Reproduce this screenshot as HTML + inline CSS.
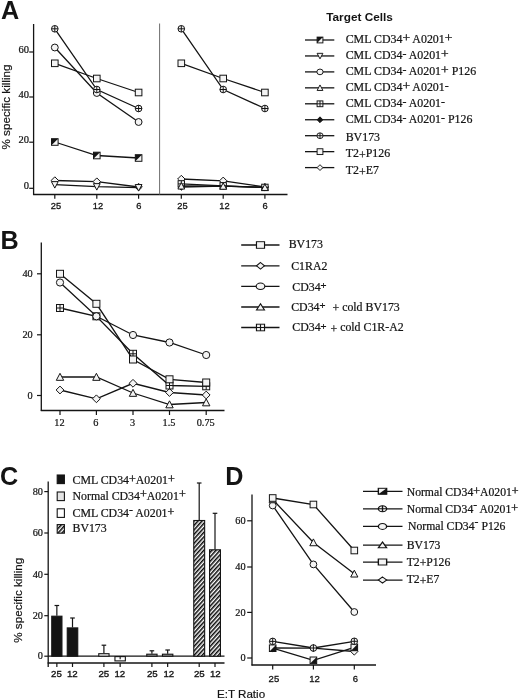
<!DOCTYPE html>
<html lang="en"><head><meta charset="utf-8"><title>Figure</title>
<style>
html,body{margin:0;padding:0;background:#fff;}
body{width:520px;height:700px;overflow:hidden;}
svg{display:block;}
text{white-space:pre;}
</style></head><body>
<svg width="520" height="700" viewBox="0 0 520 700">
<rect width="520" height="700" fill="#ffffff"/>
<text x="1.00" y="18.60" font-family='"Liberation Sans", sans-serif' font-size="25.2" text-anchor="start" font-weight="bold" fill="#141414" stroke="#141414" stroke-width="0.0" >A</text>
<line x1="33.60" y1="24.00" x2="33.60" y2="195.00" stroke="#141414" stroke-width="1.3"/>
<line x1="33.10" y1="194.50" x2="287.50" y2="194.50" stroke="#141414" stroke-width="1.3"/>
<line x1="159.60" y1="23.50" x2="159.60" y2="194.50" stroke="#6e6e6e" stroke-width="1.0"/>
<text x="29.00" y="188.90" font-family='"Liberation Serif", serif' font-size="10.5" text-anchor="end" font-weight="normal" fill="#141414" stroke="#141414" stroke-width="0.22" >0</text>
<line x1="29.20" y1="188.30" x2="33.60" y2="188.30" stroke="#141414" stroke-width="1.2"/>
<text x="29.00" y="142.80" font-family='"Liberation Serif", serif' font-size="10.5" text-anchor="end" font-weight="normal" fill="#141414" stroke="#141414" stroke-width="0.22" >20</text>
<line x1="29.20" y1="142.20" x2="33.60" y2="142.20" stroke="#141414" stroke-width="1.2"/>
<text x="29.00" y="97.60" font-family='"Liberation Serif", serif' font-size="10.5" text-anchor="end" font-weight="normal" fill="#141414" stroke="#141414" stroke-width="0.22" >40</text>
<line x1="29.20" y1="97.00" x2="33.60" y2="97.00" stroke="#141414" stroke-width="1.2"/>
<text x="29.00" y="52.60" font-family='"Liberation Serif", serif' font-size="10.5" text-anchor="end" font-weight="normal" fill="#141414" stroke="#141414" stroke-width="0.22" >60</text>
<line x1="29.20" y1="52.00" x2="33.60" y2="52.00" stroke="#141414" stroke-width="1.2"/>
<text x="56.00" y="208.50" font-family='"Liberation Sans", sans-serif' font-size="9.3" text-anchor="middle" font-weight="normal" fill="#141414" stroke="#141414" stroke-width="0.3" >25</text>
<line x1="54.80" y1="194.50" x2="54.80" y2="198.80" stroke="#141414" stroke-width="1.2"/>
<text x="98.00" y="208.50" font-family='"Liberation Sans", sans-serif' font-size="9.3" text-anchor="middle" font-weight="normal" fill="#141414" stroke="#141414" stroke-width="0.3" >12</text>
<line x1="96.80" y1="194.50" x2="96.80" y2="198.80" stroke="#141414" stroke-width="1.2"/>
<text x="138.90" y="208.50" font-family='"Liberation Sans", sans-serif' font-size="9.3" text-anchor="middle" font-weight="normal" fill="#141414" stroke="#141414" stroke-width="0.3" >6</text>
<line x1="138.60" y1="194.50" x2="138.60" y2="198.80" stroke="#141414" stroke-width="1.2"/>
<text x="182.50" y="208.50" font-family='"Liberation Sans", sans-serif' font-size="9.3" text-anchor="middle" font-weight="normal" fill="#141414" stroke="#141414" stroke-width="0.3" >25</text>
<line x1="181.30" y1="194.50" x2="181.30" y2="198.80" stroke="#141414" stroke-width="1.2"/>
<text x="224.40" y="208.50" font-family='"Liberation Sans", sans-serif' font-size="9.3" text-anchor="middle" font-weight="normal" fill="#141414" stroke="#141414" stroke-width="0.3" >12</text>
<line x1="223.20" y1="194.50" x2="223.20" y2="198.80" stroke="#141414" stroke-width="1.2"/>
<text x="265.20" y="208.50" font-family='"Liberation Sans", sans-serif' font-size="9.3" text-anchor="middle" font-weight="normal" fill="#141414" stroke="#141414" stroke-width="0.3" >6</text>
<line x1="264.90" y1="194.50" x2="264.90" y2="198.80" stroke="#141414" stroke-width="1.2"/>
<text x="0.00" y="0.00" font-family='"Liberation Sans", sans-serif' font-size="11.7" text-anchor="middle" font-weight="normal" fill="#141414" stroke="#141414" stroke-width="0.2" transform="translate(9.8,107) rotate(-90)">% specific killing</text>
<polyline points="54.80,180.50 96.80,181.60 138.60,187.00" fill="none" stroke="#141414" stroke-width="1.3"/>
<path d="M54.80 176.80L58.50 180.50L54.80 184.20L51.10 180.50Z" fill="#f4f4f4" stroke="#141414" stroke-width="1.0"/>
<path d="M96.80 177.90L100.50 181.60L96.80 185.30L93.10 181.60Z" fill="#f4f4f4" stroke="#141414" stroke-width="1.0"/>
<path d="M138.60 183.30L142.30 187.00L138.60 190.70L134.90 187.00Z" fill="#f4f4f4" stroke="#141414" stroke-width="1.0"/>
<polyline points="54.80,184.70 96.80,186.70 138.60,187.60" fill="none" stroke="#141414" stroke-width="1.3"/>
<path d="M54.80 188.10L58.20 181.64L51.40 181.64Z" fill="#f4f4f4" stroke="#141414" stroke-width="1.0"/>
<path d="M96.80 190.10L100.20 183.64L93.40 183.64Z" fill="#f4f4f4" stroke="#141414" stroke-width="1.0"/>
<path d="M138.60 191.00L142.00 184.54L135.20 184.54Z" fill="#f4f4f4" stroke="#141414" stroke-width="1.0"/>
<polyline points="54.80,142.00 96.80,155.50 138.60,158.00" fill="none" stroke="#141414" stroke-width="1.3"/>
<rect x="51.50" y="138.70" width="6.60" height="6.60" fill="#f4f4f4" stroke="#141414" stroke-width="1.0"/>
<path d="M51.50 145.30V138.70H58.10Z" fill="#141414" stroke="none"/>
<rect x="93.50" y="152.20" width="6.60" height="6.60" fill="#f4f4f4" stroke="#141414" stroke-width="1.0"/>
<path d="M93.50 158.80V152.20H100.10Z" fill="#141414" stroke="none"/>
<rect x="135.30" y="154.70" width="6.60" height="6.60" fill="#f4f4f4" stroke="#141414" stroke-width="1.0"/>
<path d="M135.30 161.30V154.70H141.90Z" fill="#141414" stroke="none"/>
<polyline points="54.80,63.30 96.80,78.50 138.60,92.50" fill="none" stroke="#141414" stroke-width="1.3"/>
<rect x="51.50" y="60.00" width="6.60" height="6.60" fill="#f4f4f4" stroke="#141414" stroke-width="1.0"/>
<rect x="93.50" y="75.20" width="6.60" height="6.60" fill="#f4f4f4" stroke="#141414" stroke-width="1.0"/>
<rect x="135.30" y="89.20" width="6.60" height="6.60" fill="#f4f4f4" stroke="#141414" stroke-width="1.0"/>
<polyline points="54.80,47.50 96.80,93.00 138.60,122.00" fill="none" stroke="#141414" stroke-width="1.3"/>
<circle cx="54.80" cy="47.50" r="3.45" fill="#f4f4f4" stroke="#141414" stroke-width="1.0"/>
<circle cx="96.80" cy="93.00" r="3.45" fill="#f4f4f4" stroke="#141414" stroke-width="1.0"/>
<circle cx="138.60" cy="122.00" r="3.45" fill="#f4f4f4" stroke="#141414" stroke-width="1.0"/>
<polyline points="54.80,28.80 96.80,89.50 138.60,108.50" fill="none" stroke="#141414" stroke-width="1.3"/>
<circle cx="54.80" cy="28.80" r="3.30" fill="#f4f4f4" stroke="#141414" stroke-width="1.0"/>
<path d="M51.50 28.80H58.10M54.80 25.50V32.10" stroke="#141414" stroke-width="1.0" fill="none"/>
<circle cx="96.80" cy="89.50" r="3.30" fill="#f4f4f4" stroke="#141414" stroke-width="1.0"/>
<path d="M93.50 89.50H100.10M96.80 86.20V92.80" stroke="#141414" stroke-width="1.0" fill="none"/>
<circle cx="138.60" cy="108.50" r="3.30" fill="#f4f4f4" stroke="#141414" stroke-width="1.0"/>
<path d="M135.30 108.50H141.90M138.60 105.20V111.80" stroke="#141414" stroke-width="1.0" fill="none"/>
<polyline points="181.30,179.00 223.20,180.80 264.90,187.00" fill="none" stroke="#141414" stroke-width="1.3"/>
<path d="M181.30 175.30L185.00 179.00L181.30 182.70L177.60 179.00Z" fill="#f4f4f4" stroke="#141414" stroke-width="1.0"/>
<path d="M223.20 177.10L226.90 180.80L223.20 184.50L219.50 180.80Z" fill="#f4f4f4" stroke="#141414" stroke-width="1.0"/>
<path d="M264.90 183.30L268.60 187.00L264.90 190.70L261.20 187.00Z" fill="#f4f4f4" stroke="#141414" stroke-width="1.0"/>
<polyline points="181.30,187.00 223.20,186.20 264.90,187.40" fill="none" stroke="#141414" stroke-width="1.3"/>
<path d="M181.30 183.80L184.50 187.00L181.30 190.20L178.10 187.00Z" fill="#141414" stroke="#141414" stroke-width="1.0"/>
<path d="M223.20 183.00L226.40 186.20L223.20 189.40L220.00 186.20Z" fill="#141414" stroke="#141414" stroke-width="1.0"/>
<path d="M264.90 184.20L268.10 187.40L264.90 190.60L261.70 187.40Z" fill="#141414" stroke="#141414" stroke-width="1.0"/>
<polyline points="181.30,183.90 223.20,185.80 264.90,187.40" fill="none" stroke="#141414" stroke-width="1.3"/>
<rect x="178.10" y="180.70" width="6.40" height="6.40" fill="#f4f4f4" stroke="#141414" stroke-width="1.0"/>
<path d="M178.10 183.90H184.50M181.30 180.70V187.10" stroke="#141414" stroke-width="1.0" fill="none"/>
<rect x="220.00" y="182.60" width="6.40" height="6.40" fill="#f4f4f4" stroke="#141414" stroke-width="1.0"/>
<path d="M220.00 185.80H226.40M223.20 182.60V189.00" stroke="#141414" stroke-width="1.0" fill="none"/>
<rect x="261.70" y="184.20" width="6.40" height="6.40" fill="#f4f4f4" stroke="#141414" stroke-width="1.0"/>
<path d="M261.70 187.40H268.10M264.90 184.20V190.60" stroke="#141414" stroke-width="1.0" fill="none"/>
<polyline points="181.30,186.00 223.20,186.20 264.90,187.40" fill="none" stroke="#141414" stroke-width="1.3"/>
<path d="M181.30 182.60L184.70 189.06L177.90 189.06Z" fill="#f4f4f4" stroke="#141414" stroke-width="1.0"/>
<path d="M223.20 182.80L226.60 189.26L219.80 189.26Z" fill="#f4f4f4" stroke="#141414" stroke-width="1.0"/>
<path d="M264.90 184.00L268.30 190.46L261.50 190.46Z" fill="#f4f4f4" stroke="#141414" stroke-width="1.0"/>
<polyline points="181.30,63.30 223.20,78.50 264.90,92.50" fill="none" stroke="#141414" stroke-width="1.3"/>
<rect x="178.00" y="60.00" width="6.60" height="6.60" fill="#f4f4f4" stroke="#141414" stroke-width="1.0"/>
<rect x="219.90" y="75.20" width="6.60" height="6.60" fill="#f4f4f4" stroke="#141414" stroke-width="1.0"/>
<rect x="261.60" y="89.20" width="6.60" height="6.60" fill="#f4f4f4" stroke="#141414" stroke-width="1.0"/>
<polyline points="181.30,28.80 223.20,89.50 264.90,108.50" fill="none" stroke="#141414" stroke-width="1.3"/>
<circle cx="181.30" cy="28.80" r="3.30" fill="#f4f4f4" stroke="#141414" stroke-width="1.0"/>
<path d="M178.00 28.80H184.60M181.30 25.50V32.10" stroke="#141414" stroke-width="1.0" fill="none"/>
<circle cx="223.20" cy="89.50" r="3.30" fill="#f4f4f4" stroke="#141414" stroke-width="1.0"/>
<path d="M219.90 89.50H226.50M223.20 86.20V92.80" stroke="#141414" stroke-width="1.0" fill="none"/>
<circle cx="264.90" cy="108.50" r="3.30" fill="#f4f4f4" stroke="#141414" stroke-width="1.0"/>
<path d="M261.60 108.50H268.20M264.90 105.20V111.80" stroke="#141414" stroke-width="1.0" fill="none"/>
<text x="326.20" y="21.30" font-family='"Liberation Sans", sans-serif' font-size="11.8" text-anchor="start" font-weight="bold" fill="#141414" stroke="#141414" stroke-width="0.0" >Target Cells</text>
<line x1="305.00" y1="40.00" x2="334.30" y2="40.00" stroke="#141414" stroke-width="1.3"/>
<rect x="317.10" y="37.10" width="5.80" height="5.80" fill="#f4f4f4" stroke="#141414" stroke-width="0.95"/>
<path d="M317.10 42.90V37.10H322.90Z" fill="#141414" stroke="none"/>
<text x="345.70" y="43.00" font-family='"Liberation Serif", serif' font-size="11.9" text-anchor="start" font-weight="normal" fill="#141414" stroke="#141414" stroke-width="0.22" >CML CD34<tspan dy="-1.3" font-size="13.5" stroke-width="0.35">+</tspan><tspan dy="1.3">​</tspan> A0201<tspan dy="-1.3" font-size="13.5" stroke-width="0.35">+</tspan><tspan dy="1.3">​</tspan></text>
<line x1="305.00" y1="55.95" x2="334.30" y2="55.95" stroke="#141414" stroke-width="1.3"/>
<path d="M320.00 58.85L322.90 53.34L317.10 53.34Z" fill="#f4f4f4" stroke="#141414" stroke-width="0.95"/>
<text x="345.70" y="59.00" font-family='"Liberation Serif", serif' font-size="11.9" text-anchor="start" font-weight="normal" fill="#141414" stroke="#141414" stroke-width="0.22" >CML CD34<tspan dy="-2.4">-</tspan><tspan dy="2.4">​</tspan> A0201<tspan dy="-1.3" font-size="13.5" stroke-width="0.35">+</tspan><tspan dy="1.3">​</tspan></text>
<line x1="305.00" y1="71.90" x2="334.30" y2="71.90" stroke="#141414" stroke-width="1.3"/>
<ellipse cx="320.00" cy="71.90" rx="3.13" ry="2.84" fill="#f4f4f4" stroke="#141414" stroke-width="0.95"/>
<text x="345.70" y="75.20" font-family='"Liberation Serif", serif' font-size="11.9" text-anchor="start" font-weight="normal" fill="#141414" stroke="#141414" stroke-width="0.22" >CML CD34<tspan dy="-2.4">-</tspan><tspan dy="2.4">​</tspan> A0201<tspan dy="-1.3" font-size="13.5" stroke-width="0.35">+</tspan><tspan dy="1.3">​</tspan> P126</text>
<line x1="305.00" y1="87.85" x2="334.30" y2="87.85" stroke="#141414" stroke-width="1.3"/>
<path d="M320.00 84.95L322.90 90.46L317.10 90.46Z" fill="#f4f4f4" stroke="#141414" stroke-width="0.95"/>
<text x="345.70" y="91.00" font-family='"Liberation Serif", serif' font-size="11.9" text-anchor="start" font-weight="normal" fill="#141414" stroke="#141414" stroke-width="0.22" >CML CD34<tspan dy="-1.3" font-size="13.5" stroke-width="0.35">+</tspan><tspan dy="1.3">​</tspan> A0201<tspan dy="-2.4">-</tspan><tspan dy="2.4">​</tspan></text>
<line x1="305.00" y1="103.80" x2="334.30" y2="103.80" stroke="#141414" stroke-width="1.3"/>
<rect x="317.10" y="100.90" width="5.80" height="5.80" fill="#f4f4f4" stroke="#141414" stroke-width="0.95"/>
<path d="M317.10 103.80H322.90M320.00 100.90V106.70" stroke="#141414" stroke-width="0.95" fill="none"/>
<text x="345.70" y="107.00" font-family='"Liberation Serif", serif' font-size="11.9" text-anchor="start" font-weight="normal" fill="#141414" stroke="#141414" stroke-width="0.22" >CML CD34<tspan dy="-2.4">-</tspan><tspan dy="2.4">​</tspan> A0201<tspan dy="-2.4">-</tspan><tspan dy="2.4">​</tspan></text>
<line x1="305.00" y1="119.75" x2="334.30" y2="119.75" stroke="#141414" stroke-width="1.3"/>
<path d="M320.00 116.85L322.90 119.75L320.00 122.65L317.10 119.75Z" fill="#141414" stroke="#141414" stroke-width="0.95"/>
<text x="345.70" y="123.20" font-family='"Liberation Serif", serif' font-size="11.9" text-anchor="start" font-weight="normal" fill="#141414" stroke="#141414" stroke-width="0.22" >CML CD34<tspan dy="-2.4">-</tspan><tspan dy="2.4">​</tspan> A0201<tspan dy="-2.4">-</tspan><tspan dy="2.4">​</tspan> P126</text>
<line x1="305.00" y1="135.70" x2="334.30" y2="135.70" stroke="#141414" stroke-width="1.3"/>
<ellipse cx="320.00" cy="135.70" rx="3.13" ry="2.84" fill="#f4f4f4" stroke="#141414" stroke-width="0.95"/>
<path d="M316.87 135.70H323.13M320.00 132.86V138.54" stroke="#141414" stroke-width="0.95" fill="none"/>
<text x="345.70" y="140.50" font-family='"Liberation Serif", serif' font-size="11.9" text-anchor="start" font-weight="normal" fill="#141414" stroke="#141414" stroke-width="0.22" >BV173</text>
<line x1="305.00" y1="151.65" x2="334.30" y2="151.65" stroke="#141414" stroke-width="1.3"/>
<rect x="317.10" y="148.75" width="5.80" height="5.80" fill="#f4f4f4" stroke="#141414" stroke-width="0.95"/>
<text x="345.70" y="157.00" font-family='"Liberation Serif", serif' font-size="11.9" text-anchor="start" font-weight="normal" fill="#141414" stroke="#141414" stroke-width="0.22" >T2<tspan dy="1.6">+</tspan><tspan dy="-1.6">​</tspan>P126</text>
<line x1="305.00" y1="167.60" x2="334.30" y2="167.60" stroke="#141414" stroke-width="1.3"/>
<path d="M320.00 164.70L322.90 167.60L320.00 170.50L317.10 167.60Z" fill="#f4f4f4" stroke="#141414" stroke-width="0.95"/>
<text x="345.70" y="173.90" font-family='"Liberation Serif", serif' font-size="11.9" text-anchor="start" font-weight="normal" fill="#141414" stroke="#141414" stroke-width="0.22" >T2<tspan dy="1.6">+</tspan><tspan dy="-1.6">​</tspan>E7</text>
<text x="0.60" y="249.30" font-family='"Liberation Sans", sans-serif' font-size="25.2" text-anchor="start" font-weight="bold" fill="#141414" stroke="#141414" stroke-width="0.0" >B</text>
<line x1="41.30" y1="242.50" x2="41.30" y2="411.00" stroke="#141414" stroke-width="1.3"/>
<line x1="40.80" y1="410.50" x2="224.50" y2="410.50" stroke="#141414" stroke-width="1.3"/>
<text x="32.70" y="399.00" font-family='"Liberation Serif", serif' font-size="10.3" text-anchor="end" font-weight="normal" fill="#141414" stroke="#141414" stroke-width="0.22" >0</text>
<line x1="37.00" y1="395.50" x2="41.30" y2="395.50" stroke="#141414" stroke-width="1.2"/>
<text x="32.70" y="338.30" font-family='"Liberation Serif", serif' font-size="10.3" text-anchor="end" font-weight="normal" fill="#141414" stroke="#141414" stroke-width="0.22" >20</text>
<line x1="37.00" y1="334.80" x2="41.30" y2="334.80" stroke="#141414" stroke-width="1.2"/>
<text x="32.70" y="277.30" font-family='"Liberation Serif", serif' font-size="10.3" text-anchor="end" font-weight="normal" fill="#141414" stroke="#141414" stroke-width="0.22" >40</text>
<line x1="37.00" y1="273.80" x2="41.30" y2="273.80" stroke="#141414" stroke-width="1.2"/>
<text x="59.50" y="426.30" font-family='"Liberation Serif", serif' font-size="10.3" text-anchor="middle" font-weight="normal" fill="#141414" stroke="#141414" stroke-width="0.22" >12</text>
<line x1="60.00" y1="410.50" x2="60.00" y2="415.00" stroke="#141414" stroke-width="1.2"/>
<text x="95.90" y="426.30" font-family='"Liberation Serif", serif' font-size="10.3" text-anchor="middle" font-weight="normal" fill="#141414" stroke="#141414" stroke-width="0.22" >6</text>
<line x1="96.40" y1="410.50" x2="96.40" y2="415.00" stroke="#141414" stroke-width="1.2"/>
<text x="132.50" y="426.30" font-family='"Liberation Serif", serif' font-size="10.3" text-anchor="middle" font-weight="normal" fill="#141414" stroke="#141414" stroke-width="0.22" >3</text>
<line x1="133.00" y1="410.50" x2="133.00" y2="415.00" stroke="#141414" stroke-width="1.2"/>
<text x="169.00" y="426.30" font-family='"Liberation Serif", serif' font-size="10.3" text-anchor="middle" font-weight="normal" fill="#141414" stroke="#141414" stroke-width="0.22" >1.5</text>
<line x1="169.50" y1="410.50" x2="169.50" y2="415.00" stroke="#141414" stroke-width="1.2"/>
<text x="205.70" y="426.30" font-family='"Liberation Serif", serif' font-size="10.3" text-anchor="middle" font-weight="normal" fill="#141414" stroke="#141414" stroke-width="0.22" >0.75</text>
<line x1="206.20" y1="410.50" x2="206.20" y2="415.00" stroke="#141414" stroke-width="1.2"/>
<polyline points="60.00,390.00 96.40,398.80 133.00,383.30 169.50,392.50 206.20,395.00" fill="none" stroke="#141414" stroke-width="1.3"/>
<path d="M60.00 386.10L63.90 390.00L60.00 393.90L56.10 390.00Z" fill="#f4f4f4" stroke="#141414" stroke-width="1.0"/>
<path d="M96.40 394.90L100.30 398.80L96.40 402.70L92.50 398.80Z" fill="#f4f4f4" stroke="#141414" stroke-width="1.0"/>
<path d="M133.00 379.40L136.90 383.30L133.00 387.20L129.10 383.30Z" fill="#f4f4f4" stroke="#141414" stroke-width="1.0"/>
<path d="M169.50 388.60L173.40 392.50L169.50 396.40L165.60 392.50Z" fill="#f4f4f4" stroke="#141414" stroke-width="1.0"/>
<path d="M206.20 391.10L210.10 395.00L206.20 398.90L202.30 395.00Z" fill="#f4f4f4" stroke="#141414" stroke-width="1.0"/>
<polyline points="60.00,377.00 96.40,377.00 133.00,393.00 169.50,404.50 206.20,402.50" fill="none" stroke="#141414" stroke-width="1.3"/>
<path d="M60.00 373.30L63.70 380.33L56.30 380.33Z" fill="#f4f4f4" stroke="#141414" stroke-width="1.0"/>
<path d="M96.40 373.30L100.10 380.33L92.70 380.33Z" fill="#f4f4f4" stroke="#141414" stroke-width="1.0"/>
<path d="M133.00 389.30L136.70 396.33L129.30 396.33Z" fill="#f4f4f4" stroke="#141414" stroke-width="1.0"/>
<path d="M169.50 400.80L173.20 407.83L165.80 407.83Z" fill="#f4f4f4" stroke="#141414" stroke-width="1.0"/>
<path d="M206.20 398.80L209.90 405.83L202.50 405.83Z" fill="#f4f4f4" stroke="#141414" stroke-width="1.0"/>
<polyline points="60.00,308.00 96.40,316.30 133.00,353.80 169.50,385.50 206.20,386.30" fill="none" stroke="#141414" stroke-width="1.3"/>
<rect x="56.50" y="304.50" width="7.00" height="7.00" fill="#f4f4f4" stroke="#141414" stroke-width="1.0"/>
<path d="M56.50 308.00H63.50M60.00 304.50V311.50" stroke="#141414" stroke-width="1.0" fill="none"/>
<rect x="92.90" y="312.80" width="7.00" height="7.00" fill="#f4f4f4" stroke="#141414" stroke-width="1.0"/>
<path d="M92.90 316.30H99.90M96.40 312.80V319.80" stroke="#141414" stroke-width="1.0" fill="none"/>
<rect x="129.50" y="350.30" width="7.00" height="7.00" fill="#f4f4f4" stroke="#141414" stroke-width="1.0"/>
<path d="M129.50 353.80H136.50M133.00 350.30V357.30" stroke="#141414" stroke-width="1.0" fill="none"/>
<rect x="166.00" y="382.00" width="7.00" height="7.00" fill="#f4f4f4" stroke="#141414" stroke-width="1.0"/>
<path d="M166.00 385.50H173.00M169.50 382.00V389.00" stroke="#141414" stroke-width="1.0" fill="none"/>
<rect x="202.70" y="382.80" width="7.00" height="7.00" fill="#f4f4f4" stroke="#141414" stroke-width="1.0"/>
<path d="M202.70 386.30H209.70M206.20 382.80V389.80" stroke="#141414" stroke-width="1.0" fill="none"/>
<polyline points="60.00,282.50 96.40,316.30 133.00,335.00 169.50,342.50 206.20,355.00" fill="none" stroke="#141414" stroke-width="1.3"/>
<circle cx="60.00" cy="282.50" r="3.60" fill="#f4f4f4" stroke="#141414" stroke-width="1.0"/>
<circle cx="96.40" cy="316.30" r="3.60" fill="#f4f4f4" stroke="#141414" stroke-width="1.0"/>
<circle cx="133.00" cy="335.00" r="3.60" fill="#f4f4f4" stroke="#141414" stroke-width="1.0"/>
<circle cx="169.50" cy="342.50" r="3.60" fill="#f4f4f4" stroke="#141414" stroke-width="1.0"/>
<circle cx="206.20" cy="355.00" r="3.60" fill="#f4f4f4" stroke="#141414" stroke-width="1.0"/>
<polyline points="60.00,273.80 96.40,303.80 133.00,359.50 169.50,379.30 206.20,382.50" fill="none" stroke="#141414" stroke-width="1.3"/>
<rect x="56.50" y="270.30" width="7.00" height="7.00" fill="#f4f4f4" stroke="#141414" stroke-width="1.0"/>
<rect x="92.90" y="300.30" width="7.00" height="7.00" fill="#f4f4f4" stroke="#141414" stroke-width="1.0"/>
<rect x="129.50" y="356.00" width="7.00" height="7.00" fill="#f4f4f4" stroke="#141414" stroke-width="1.0"/>
<rect x="166.00" y="375.80" width="7.00" height="7.00" fill="#f4f4f4" stroke="#141414" stroke-width="1.0"/>
<rect x="202.70" y="379.00" width="7.00" height="7.00" fill="#f4f4f4" stroke="#141414" stroke-width="1.0"/>
<line x1="241.20" y1="245.00" x2="279.50" y2="245.00" stroke="#141414" stroke-width="1.3"/>
<g transform="translate(260.5,245) scale(1.22,1)">
<rect x="-3.30" y="-3.30" width="6.60" height="6.60" fill="#f4f4f4" stroke="#141414" stroke-width="0.95"/>
</g>
<text x="288.70" y="248.30" font-family='"Liberation Serif", serif' font-size="11.85" text-anchor="start" font-weight="normal" fill="#141414" stroke="#141414" stroke-width="0.22" >BV173</text>
<line x1="241.20" y1="265.80" x2="279.50" y2="265.80" stroke="#141414" stroke-width="1.3"/>
<g transform="translate(260.5,265.8) scale(1.22,1)">
<path d="M0.00 -3.30L3.30 0.00L0.00 3.30L-3.30 0.00Z" fill="#f4f4f4" stroke="#141414" stroke-width="0.95"/>
</g>
<text x="291.20" y="269.60" font-family='"Liberation Serif", serif' font-size="11.85" text-anchor="start" font-weight="normal" fill="#141414" stroke="#141414" stroke-width="0.22" >C1RA2</text>
<line x1="241.20" y1="286.30" x2="279.50" y2="286.30" stroke="#141414" stroke-width="1.3"/>
<g transform="translate(260.5,286.3) scale(1.22,1)">
<ellipse cx="0.00" cy="0.00" rx="3.56" ry="3.23" fill="#f4f4f4" stroke="#141414" stroke-width="0.95"/>
</g>
<text x="292.30" y="290.50" font-family='"Liberation Serif", serif' font-size="11.85" text-anchor="start" font-weight="normal" fill="#141414" stroke="#141414" stroke-width="0.22" >CD34<tspan dy="-1.6" font-size="10.5" stroke-width="0.35">+</tspan><tspan dy="1.6">​</tspan></text>
<line x1="241.20" y1="307.00" x2="279.50" y2="307.00" stroke="#141414" stroke-width="1.3"/>
<g transform="translate(260.5,307) scale(1.22,1)">
<path d="M0.00 -3.30L3.30 2.97L-3.30 2.97Z" fill="#f4f4f4" stroke="#141414" stroke-width="0.95"/>
</g>
<text x="291.20" y="310.70" font-family='"Liberation Serif", serif' font-size="11.85" text-anchor="start" font-weight="normal" fill="#141414" stroke="#141414" stroke-width="0.22" >CD34<tspan dy="-1.6" font-size="10.5" stroke-width="0.35">+</tspan><tspan dy="1.6">​</tspan></text>
<line x1="241.20" y1="327.50" x2="279.50" y2="327.50" stroke="#141414" stroke-width="1.3"/>
<g transform="translate(260.5,327.5) scale(1.22,1)">
<rect x="-3.30" y="-3.30" width="6.60" height="6.60" fill="#f4f4f4" stroke="#141414" stroke-width="0.95"/>
<path d="M-3.30 0.00H3.30M0.00 -3.30V3.30" stroke="#141414" stroke-width="0.95" fill="none"/>
</g>
<text x="292.30" y="331.20" font-family='"Liberation Serif", serif' font-size="11.85" text-anchor="start" font-weight="normal" fill="#141414" stroke="#141414" stroke-width="0.22" >CD34<tspan dy="-1.6" font-size="10.5" stroke-width="0.35">+</tspan><tspan dy="1.6">​</tspan></text>
<text x="332.50" y="310.70" font-family='"Liberation Serif", serif' font-size="11.85" text-anchor="start" font-weight="normal" fill="#141414" stroke="#141414" stroke-width="0.22" ><tspan dy="1.6">+</tspan><tspan dy="-1.6">​</tspan> cold BV173</text>
<text x="330.50" y="331.20" font-family='"Liberation Serif", serif' font-size="11.85" text-anchor="start" font-weight="normal" fill="#141414" stroke="#141414" stroke-width="0.22" ><tspan dy="1.6">+</tspan><tspan dy="-1.6">​</tspan> cold C1R-A2</text>
<text x="0.00" y="485.00" font-family='"Liberation Sans", sans-serif' font-size="25.2" text-anchor="start" font-weight="bold" fill="#141414" stroke="#141414" stroke-width="0.0" >C</text>
<line x1="48.20" y1="481.50" x2="48.20" y2="667.00" stroke="#141414" stroke-width="1.3"/>
<text x="43.00" y="659.40" font-family='"Liberation Serif", serif' font-size="10.3" text-anchor="end" font-weight="normal" fill="#141414" stroke="#141414" stroke-width="0.22" >0</text>
<line x1="44.30" y1="656.20" x2="48.20" y2="656.20" stroke="#141414" stroke-width="1.2"/>
<text x="43.00" y="618.90" font-family='"Liberation Serif", serif' font-size="10.3" text-anchor="end" font-weight="normal" fill="#141414" stroke="#141414" stroke-width="0.22" >20</text>
<line x1="44.30" y1="615.70" x2="48.20" y2="615.70" stroke="#141414" stroke-width="1.2"/>
<text x="43.00" y="577.50" font-family='"Liberation Serif", serif' font-size="10.3" text-anchor="end" font-weight="normal" fill="#141414" stroke="#141414" stroke-width="0.22" >40</text>
<line x1="44.30" y1="574.30" x2="48.20" y2="574.30" stroke="#141414" stroke-width="1.2"/>
<text x="43.00" y="536.20" font-family='"Liberation Serif", serif' font-size="10.3" text-anchor="end" font-weight="normal" fill="#141414" stroke="#141414" stroke-width="0.22" >60</text>
<line x1="44.30" y1="533.00" x2="48.20" y2="533.00" stroke="#141414" stroke-width="1.2"/>
<text x="43.00" y="494.80" font-family='"Liberation Serif", serif' font-size="10.3" text-anchor="end" font-weight="normal" fill="#141414" stroke="#141414" stroke-width="0.22" >80</text>
<line x1="44.30" y1="491.60" x2="48.20" y2="491.60" stroke="#141414" stroke-width="1.2"/>
<line x1="48.20" y1="656.20" x2="224.50" y2="656.20" stroke="#141414" stroke-width="1.3"/>
<line x1="47.60" y1="663.00" x2="224.50" y2="663.00" stroke="#141414" stroke-width="1.3"/>
<text x="0.00" y="0.00" font-family='"Liberation Sans", sans-serif' font-size="11.7" text-anchor="middle" font-weight="normal" fill="#141414" stroke="#141414" stroke-width="0.2" transform="translate(22.3,600.3) rotate(-90)">% specific killing</text>
<defs><pattern id="h" width="4" height="3" patternUnits="userSpaceOnUse" patternTransform="rotate(-48)"><rect width="4" height="3" fill="#ffffff"/><rect width="4" height="1.55" fill="#0a0a0a"/></pattern></defs>
<rect x="51.75" y="616.20" width="10.20" height="40.00" fill="#141414" stroke="#141414" stroke-width="1.1"/>
<line x1="56.85" y1="615.80" x2="56.85" y2="605.50" stroke="#141414" stroke-width="1.2"/>
<line x1="54.55" y1="605.50" x2="59.15" y2="605.50" stroke="#141414" stroke-width="1.2"/>
<line x1="56.85" y1="663.00" x2="56.85" y2="667.00" stroke="#141414" stroke-width="1.2"/>
<rect x="67.25" y="627.90" width="10.50" height="28.30" fill="#141414" stroke="#141414" stroke-width="1.1"/>
<line x1="72.50" y1="627.50" x2="72.50" y2="618.00" stroke="#141414" stroke-width="1.2"/>
<line x1="70.20" y1="618.00" x2="74.80" y2="618.00" stroke="#141414" stroke-width="1.2"/>
<line x1="72.50" y1="663.00" x2="72.50" y2="667.00" stroke="#141414" stroke-width="1.2"/>
<rect x="98.75" y="653.70" width="10.30" height="2.50" fill="#f0f0f0" stroke="#141414" stroke-width="1.1"/>
<line x1="103.90" y1="653.30" x2="103.90" y2="645.20" stroke="#141414" stroke-width="1.2"/>
<line x1="101.60" y1="645.20" x2="106.20" y2="645.20" stroke="#141414" stroke-width="1.2"/>
<line x1="103.90" y1="663.00" x2="103.90" y2="667.00" stroke="#141414" stroke-width="1.2"/>
<rect x="114.95" y="656.60" width="10.40" height="4.30" fill="#ffffff" stroke="#141414" stroke-width="1.1"/>
<line x1="120.15" y1="656.20" x2="120.15" y2="659.20" stroke="#141414" stroke-width="1.1"/>
<line x1="120.15" y1="663.00" x2="120.15" y2="667.00" stroke="#141414" stroke-width="1.2"/>
<rect x="146.75" y="654.20" width="10.30" height="2.00" fill="#9a9a9a" stroke="#141414" stroke-width="1.1"/>
<line x1="151.90" y1="653.80" x2="151.90" y2="650.80" stroke="#141414" stroke-width="1.2"/>
<line x1="149.60" y1="650.80" x2="154.20" y2="650.80" stroke="#141414" stroke-width="1.2"/>
<line x1="151.90" y1="663.00" x2="151.90" y2="667.00" stroke="#141414" stroke-width="1.2"/>
<rect x="162.45" y="654.20" width="10.40" height="2.00" fill="#9a9a9a" stroke="#141414" stroke-width="1.1"/>
<line x1="167.65" y1="653.80" x2="167.65" y2="650.00" stroke="#141414" stroke-width="1.2"/>
<line x1="165.35" y1="650.00" x2="169.95" y2="650.00" stroke="#141414" stroke-width="1.2"/>
<line x1="167.65" y1="663.00" x2="167.65" y2="667.00" stroke="#141414" stroke-width="1.2"/>
<rect x="193.75" y="520.50" width="10.90" height="135.70" fill="url(#h)" stroke="#141414" stroke-width="1.1"/>
<line x1="199.20" y1="520.10" x2="199.20" y2="483.00" stroke="#141414" stroke-width="1.2"/>
<line x1="196.90" y1="483.00" x2="201.50" y2="483.00" stroke="#141414" stroke-width="1.2"/>
<line x1="199.20" y1="663.00" x2="199.20" y2="667.00" stroke="#141414" stroke-width="1.2"/>
<rect x="209.55" y="549.80" width="10.90" height="106.40" fill="url(#h)" stroke="#141414" stroke-width="1.1"/>
<line x1="215.00" y1="549.40" x2="215.00" y2="513.30" stroke="#141414" stroke-width="1.2"/>
<line x1="212.70" y1="513.30" x2="217.30" y2="513.30" stroke="#141414" stroke-width="1.2"/>
<line x1="215.00" y1="663.00" x2="215.00" y2="667.00" stroke="#141414" stroke-width="1.2"/>
<text x="56.50" y="677.00" font-family='"Liberation Sans", sans-serif' font-size="9.7" text-anchor="middle" font-weight="normal" fill="#141414" stroke="#141414" stroke-width="0.35" >25</text>
<text x="72.30" y="677.00" font-family='"Liberation Sans", sans-serif' font-size="9.7" text-anchor="middle" font-weight="normal" fill="#141414" stroke="#141414" stroke-width="0.35" >12</text>
<text x="103.80" y="677.00" font-family='"Liberation Sans", sans-serif' font-size="9.7" text-anchor="middle" font-weight="normal" fill="#141414" stroke="#141414" stroke-width="0.35" >25</text>
<text x="119.80" y="677.00" font-family='"Liberation Sans", sans-serif' font-size="9.7" text-anchor="middle" font-weight="normal" fill="#141414" stroke="#141414" stroke-width="0.35" >12</text>
<text x="152.30" y="677.00" font-family='"Liberation Sans", sans-serif' font-size="9.7" text-anchor="middle" font-weight="normal" fill="#141414" stroke="#141414" stroke-width="0.35" >25</text>
<text x="168.80" y="677.00" font-family='"Liberation Sans", sans-serif' font-size="9.7" text-anchor="middle" font-weight="normal" fill="#141414" stroke="#141414" stroke-width="0.35" >12</text>
<text x="199.30" y="677.00" font-family='"Liberation Sans", sans-serif' font-size="9.7" text-anchor="middle" font-weight="normal" fill="#141414" stroke="#141414" stroke-width="0.35" >25</text>
<text x="215.30" y="677.00" font-family='"Liberation Sans", sans-serif' font-size="9.7" text-anchor="middle" font-weight="normal" fill="#141414" stroke="#141414" stroke-width="0.35" >12</text>
<rect x="57.2" y="475" width="7.2" height="8.6" fill="#141414" stroke="#141414" stroke-width="1.1"/>
<text x="72.50" y="483.70" font-family='"Liberation Serif", serif' font-size="11.85" text-anchor="start" font-weight="normal" fill="#141414" stroke="#141414" stroke-width="0.22" >CML CD34<tspan dy="-1.1" font-size="12" stroke-width="0.35">+</tspan><tspan dy="1.1">​</tspan>A0201<tspan dy="-1.1" font-size="12" stroke-width="0.35">+</tspan><tspan dy="1.1">​</tspan></text>
<rect x="57.2" y="492" width="7.2" height="8.6" fill="#e4e4e4" stroke="#141414" stroke-width="1.1"/>
<text x="72.50" y="499.50" font-family='"Liberation Serif", serif' font-size="11.85" text-anchor="start" font-weight="normal" fill="#141414" stroke="#141414" stroke-width="0.22" >Normal CD34<tspan dy="-1.1" font-size="12" stroke-width="0.35">+</tspan><tspan dy="1.1">​</tspan>A0201<tspan dy="-1.1" font-size="12" stroke-width="0.35">+</tspan><tspan dy="1.1">​</tspan></text>
<rect x="57.2" y="508.8" width="7.2" height="8.6" fill="#ffffff" stroke="#141414" stroke-width="1.1"/>
<text x="72.50" y="517.00" font-family='"Liberation Serif", serif' font-size="11.85" text-anchor="start" font-weight="normal" fill="#141414" stroke="#141414" stroke-width="0.22" >CML CD34<tspan dy="-3.2">-</tspan><tspan dy="3.2">​</tspan> A0201<tspan dy="-1.1" font-size="12" stroke-width="0.35">+</tspan><tspan dy="1.1">​</tspan></text>
<rect x="57.2" y="524.6" width="7.2" height="8.6" fill="url(#h)" stroke="#141414" stroke-width="1.1"/>
<text x="72.50" y="532.00" font-family='"Liberation Serif", serif' font-size="11.85" text-anchor="start" font-weight="normal" fill="#141414" stroke="#141414" stroke-width="0.22" >BV173</text>
<text x="217.00" y="698.00" font-family='"Liberation Sans", sans-serif' font-size="11.6" text-anchor="start" font-weight="normal" fill="#141414" stroke="#141414" stroke-width="0.2" >E:T Ratio</text>
<text x="225.20" y="484.80" font-family='"Liberation Sans", sans-serif' font-size="25.2" text-anchor="start" font-weight="bold" fill="#141414" stroke="#141414" stroke-width="0.0" >D</text>
<line x1="252.00" y1="494.40" x2="252.00" y2="665.50" stroke="#141414" stroke-width="1.3"/>
<line x1="251.50" y1="665.00" x2="376.00" y2="665.00" stroke="#141414" stroke-width="1.3"/>
<text x="245.60" y="661.20" font-family='"Liberation Serif", serif' font-size="10.3" text-anchor="end" font-weight="normal" fill="#141414" stroke="#141414" stroke-width="0.22" >0</text>
<line x1="247.20" y1="658.00" x2="252.00" y2="658.00" stroke="#141414" stroke-width="1.2"/>
<text x="245.60" y="615.60" font-family='"Liberation Serif", serif' font-size="10.3" text-anchor="end" font-weight="normal" fill="#141414" stroke="#141414" stroke-width="0.22" >20</text>
<line x1="247.20" y1="612.40" x2="252.00" y2="612.40" stroke="#141414" stroke-width="1.2"/>
<text x="245.60" y="570.20" font-family='"Liberation Serif", serif' font-size="10.3" text-anchor="end" font-weight="normal" fill="#141414" stroke="#141414" stroke-width="0.22" >40</text>
<line x1="247.20" y1="567.00" x2="252.00" y2="567.00" stroke="#141414" stroke-width="1.2"/>
<text x="245.60" y="524.00" font-family='"Liberation Serif", serif' font-size="10.3" text-anchor="end" font-weight="normal" fill="#141414" stroke="#141414" stroke-width="0.22" >60</text>
<line x1="247.20" y1="520.80" x2="252.00" y2="520.80" stroke="#141414" stroke-width="1.2"/>
<text x="273.90" y="682.30" font-family='"Liberation Sans", sans-serif' font-size="9.5" text-anchor="middle" font-weight="normal" fill="#141414" stroke="#141414" stroke-width="0.3" >25</text>
<line x1="272.70" y1="665.00" x2="272.70" y2="669.50" stroke="#141414" stroke-width="1.2"/>
<text x="314.60" y="682.30" font-family='"Liberation Sans", sans-serif' font-size="9.5" text-anchor="middle" font-weight="normal" fill="#141414" stroke="#141414" stroke-width="0.3" >12</text>
<line x1="313.40" y1="665.00" x2="313.40" y2="669.50" stroke="#141414" stroke-width="1.2"/>
<text x="355.50" y="682.30" font-family='"Liberation Sans", sans-serif' font-size="9.5" text-anchor="middle" font-weight="normal" fill="#141414" stroke="#141414" stroke-width="0.3" >6</text>
<line x1="354.30" y1="665.00" x2="354.30" y2="669.50" stroke="#141414" stroke-width="1.2"/>
<polyline points="272.70,648.00 313.40,648.20 354.30,651.50" fill="none" stroke="#141414" stroke-width="1.3"/>
<path d="M272.70 644.40L276.30 648.00L272.70 651.60L269.10 648.00Z" fill="#f4f4f4" stroke="#141414" stroke-width="1.0"/>
<path d="M313.40 644.60L317.00 648.20L313.40 651.80L309.80 648.20Z" fill="#f4f4f4" stroke="#141414" stroke-width="1.0"/>
<path d="M354.30 647.90L357.90 651.50L354.30 655.10L350.70 651.50Z" fill="#f4f4f4" stroke="#141414" stroke-width="1.0"/>
<polyline points="272.70,648.20 313.40,660.30 354.30,647.40" fill="none" stroke="#141414" stroke-width="1.3"/>
<rect x="269.40" y="644.90" width="6.60" height="6.60" fill="#f4f4f4" stroke="#141414" stroke-width="1.0"/>
<path d="M276.00 644.90V651.50H269.40Z" fill="#141414" stroke="none"/>
<rect x="310.10" y="657.00" width="6.60" height="6.60" fill="#f4f4f4" stroke="#141414" stroke-width="1.0"/>
<path d="M316.70 657.00V663.60H310.10Z" fill="#141414" stroke="none"/>
<rect x="351.00" y="644.10" width="6.60" height="6.60" fill="#f4f4f4" stroke="#141414" stroke-width="1.0"/>
<path d="M357.60 644.10V650.70H351.00Z" fill="#141414" stroke="none"/>
<polyline points="272.70,641.40 313.40,648.00 354.30,641.30" fill="none" stroke="#141414" stroke-width="1.3"/>
<circle cx="272.70" cy="641.40" r="3.30" fill="#f4f4f4" stroke="#141414" stroke-width="1.0"/>
<path d="M269.40 641.40H276.00M272.70 638.10V644.70" stroke="#141414" stroke-width="1.0" fill="none"/>
<circle cx="313.40" cy="648.00" r="3.30" fill="#f4f4f4" stroke="#141414" stroke-width="1.0"/>
<path d="M310.10 648.00H316.70M313.40 644.70V651.30" stroke="#141414" stroke-width="1.0" fill="none"/>
<circle cx="354.30" cy="641.30" r="3.30" fill="#f4f4f4" stroke="#141414" stroke-width="1.0"/>
<path d="M351.00 641.30H357.60M354.30 638.00V644.60" stroke="#141414" stroke-width="1.0" fill="none"/>
<polyline points="272.70,505.50 313.40,564.40 354.30,612.00" fill="none" stroke="#141414" stroke-width="1.3"/>
<circle cx="272.70" cy="505.50" r="3.40" fill="#f4f4f4" stroke="#141414" stroke-width="1.0"/>
<circle cx="313.40" cy="564.40" r="3.40" fill="#f4f4f4" stroke="#141414" stroke-width="1.0"/>
<circle cx="354.30" cy="612.00" r="3.40" fill="#f4f4f4" stroke="#141414" stroke-width="1.0"/>
<polyline points="272.70,499.50 313.40,542.50 354.30,573.80" fill="none" stroke="#141414" stroke-width="1.3"/>
<path d="M272.70 495.90L276.30 502.74L269.10 502.74Z" fill="#f4f4f4" stroke="#141414" stroke-width="1.0"/>
<path d="M313.40 538.90L317.00 545.74L309.80 545.74Z" fill="#f4f4f4" stroke="#141414" stroke-width="1.0"/>
<path d="M354.30 570.20L357.90 577.04L350.70 577.04Z" fill="#f4f4f4" stroke="#141414" stroke-width="1.0"/>
<polyline points="272.70,498.00 313.40,504.50 354.30,550.50" fill="none" stroke="#141414" stroke-width="1.3"/>
<rect x="269.40" y="494.70" width="6.60" height="6.60" fill="#f4f4f4" stroke="#141414" stroke-width="1.0"/>
<rect x="310.10" y="501.20" width="6.60" height="6.60" fill="#f4f4f4" stroke="#141414" stroke-width="1.0"/>
<rect x="351.00" y="547.20" width="6.60" height="6.60" fill="#f4f4f4" stroke="#141414" stroke-width="1.0"/>
<line x1="363.00" y1="491.30" x2="402.50" y2="491.30" stroke="#141414" stroke-width="1.25"/>
<g transform="translate(382.5,491.3) scale(1.38,1)">
<rect x="-3.00" y="-3.00" width="6.00" height="6.00" fill="#f4f4f4" stroke="#141414" stroke-width="1.0"/>
<path d="M3.00 -3.00V3.00H-3.00Z" fill="#141414" stroke="none"/>
</g>
<text x="406.70" y="496.20" font-family='"Liberation Serif", serif' font-size="11.7" text-anchor="start" font-weight="normal" fill="#141414" stroke="#141414" stroke-width="0.22" >Normal CD34<tspan dy="-1.3" font-size="12" stroke-width="0.35">+</tspan><tspan dy="1.3">​</tspan>A0201<tspan dy="-1.3" font-size="12" stroke-width="0.35">+</tspan><tspan dy="1.3">​</tspan></text>
<line x1="363.00" y1="508.80" x2="402.50" y2="508.80" stroke="#141414" stroke-width="1.25"/>
<g transform="translate(382.5,508.8) scale(1.38,1)">
<circle cx="0.00" cy="0.00" r="3.00" fill="#f4f4f4" stroke="#141414" stroke-width="1.0"/>
<path d="M-3.00 0.00H3.00M0.00 -3.00V3.00" stroke="#141414" stroke-width="1.0" fill="none"/>
</g>
<text x="406.70" y="512.80" font-family='"Liberation Serif", serif' font-size="11.7" text-anchor="start" font-weight="normal" fill="#141414" stroke="#141414" stroke-width="0.22" >Normal CD34<tspan dy="-3.4">-</tspan><tspan dy="3.4">​</tspan> A0201<tspan dy="-1.3" font-size="12" stroke-width="0.35">+</tspan><tspan dy="1.3">​</tspan></text>
<line x1="363.00" y1="526.40" x2="402.50" y2="526.40" stroke="#141414" stroke-width="1.25"/>
<g transform="translate(382.5,526.4) scale(1.38,1)">
<circle cx="0.00" cy="0.00" r="3.00" fill="#f4f4f4" stroke="#141414" stroke-width="1.0"/>
</g>
<text x="408.00" y="529.70" font-family='"Liberation Serif", serif' font-size="11.7" text-anchor="start" font-weight="normal" fill="#141414" stroke="#141414" stroke-width="0.22" >Normal CD34<tspan dy="-3.4">-</tspan><tspan dy="3.4">​</tspan> P126</text>
<line x1="363.00" y1="545.00" x2="402.50" y2="545.00" stroke="#141414" stroke-width="1.25"/>
<g transform="translate(382.5,545) scale(1.38,1)">
<path d="M0.00 -3.00L3.00 2.70L-3.00 2.70Z" fill="#f4f4f4" stroke="#141414" stroke-width="1.0"/>
</g>
<text x="406.70" y="548.70" font-family='"Liberation Serif", serif' font-size="11.7" text-anchor="start" font-weight="normal" fill="#141414" stroke="#141414" stroke-width="0.22" >BV173</text>
<line x1="363.00" y1="562.00" x2="402.50" y2="562.00" stroke="#141414" stroke-width="1.25"/>
<g transform="translate(382.5,562) scale(1.38,1)">
<rect x="-3.00" y="-3.00" width="6.00" height="6.00" fill="#f4f4f4" stroke="#141414" stroke-width="1.0"/>
</g>
<text x="406.70" y="565.70" font-family='"Liberation Serif", serif' font-size="11.7" text-anchor="start" font-weight="normal" fill="#141414" stroke="#141414" stroke-width="0.22" >T2<tspan dy="1.6">+</tspan><tspan dy="-1.6">​</tspan>P126</text>
<line x1="363.00" y1="580.00" x2="402.50" y2="580.00" stroke="#141414" stroke-width="1.25"/>
<g transform="translate(382.5,580) scale(1.38,1)">
<path d="M0.00 -3.00L3.00 0.00L0.00 3.00L-3.00 0.00Z" fill="#f4f4f4" stroke="#141414" stroke-width="1.0"/>
</g>
<text x="406.70" y="583.20" font-family='"Liberation Serif", serif' font-size="11.7" text-anchor="start" font-weight="normal" fill="#141414" stroke="#141414" stroke-width="0.22" >T2<tspan dy="1.6">+</tspan><tspan dy="-1.6">​</tspan>E7</text>
</svg>
</body></html>
